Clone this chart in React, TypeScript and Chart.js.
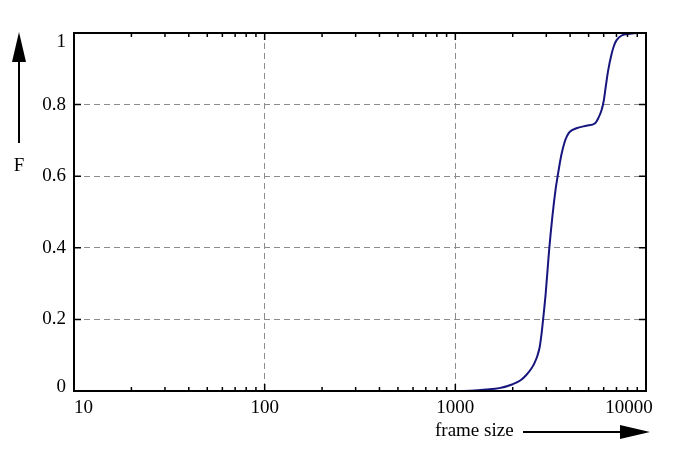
import { useEffect, useRef } from 'react';
import { Chart, registerables } from 'chart.js';

// Cumulative distribution F of frame sizes
const frameSizes = [
  750, 1000, 1200, 1450, 1700, 2000, 2200, 2350, 2500, 2600, 2700, 2770, 2830, 2880,
  2975, 3100, 3225, 3360, 3440, 3520, 3600, 3740, 3850, 3985, 4315, 4870, 5410, 5620,
  5850, 6000, 6150, 6330, 6590, 6800, 7010, 7450, 8230, 9000, 10000,
];
const cdfValues = [
  0, 0, 0.001, 0.004, 0.008, 0.019, 0.03, 0.044, 0.062, 0.078, 0.1, 0.123, 0.158, 0.195,
  0.27, 0.39, 0.485, 0.565, 0.6, 0.632, 0.66, 0.695, 0.712, 0.724, 0.734, 0.741, 0.748, 0.762,
  0.785, 0.81, 0.85, 0.895, 0.94, 0.965, 0.98, 0.993, 0.998, 1, 1,
];

const xTickValues = [10, 100, 1000, 10000];
const yTickValues = [0, 0.2, 0.4, 0.6, 0.8, 1];
const xMinorMultipliers = [2, 3, 4, 5, 6, 7, 8, 9];

const FONT = '"Liberation Serif", "Times New Roman", serif';

const yLabel = (v: number) => (v === 0 ? '0' : v === 1 ? '1' : v.toFixed(1));

const framePlugin = {
  id: 'frameAndArrows',
  afterDraw(chart: any) {
    const { ctx, chartArea: a, scales } = chart;
    const xs = scales.x;
    const ys = scales.y;
    ctx.save();

    // ticks (inward, on all four sides)
    ctx.strokeStyle = '#000';
    ctx.lineWidth = 1.5;
    ctx.beginPath();
    yTickValues.forEach((v) => {
      const y = ys.getPixelForValue(v);
      ctx.moveTo(a.left, y);
      ctx.lineTo(a.left + 7, y);
      ctx.moveTo(a.right, y);
      ctx.lineTo(a.right - 7, y);
    });
    xTickValues.forEach((v) => {
      const x = xs.getPixelForValue(v);
      ctx.moveTo(x, a.bottom);
      ctx.lineTo(x, a.bottom - 7);
      ctx.moveTo(x, a.top);
      ctx.lineTo(x, a.top + 7);
      if (v < 10000) {
        xMinorMultipliers.forEach((m) => {
          const xm = xs.getPixelForValue(v * m);
          ctx.moveTo(xm, a.bottom);
          ctx.lineTo(xm, a.bottom - 4);
          ctx.moveTo(xm, a.top);
          ctx.lineTo(xm, a.top + 4);
        });
      }
    });
    ctx.stroke();

    // frame
    ctx.lineWidth = 2;
    ctx.strokeRect(a.left, a.top, a.right - a.left, a.bottom - a.top);

    // tick labels
    ctx.fillStyle = '#000';
    ctx.font = `19px ${FONT}`;
    ctx.textBaseline = 'middle';
    ctx.textAlign = 'right';
    yTickValues.forEach((v, i) => {
      let y = ys.getPixelForValue(v);
      if (i === 0) y -= 4;
      if (i === yTickValues.length - 1) y += 9;
      ctx.fillText(yLabel(v), a.left - 8, y);
    });
    xTickValues.forEach((v, i) => {
      let x = xs.getPixelForValue(v);
      ctx.textAlign = 'center';
      if (i === 0) ctx.textAlign = 'left';
      if (i === xTickValues.length - 1) x -= 17;
      ctx.fillText(String(v), x, a.bottom + 17);
    });

    // y axis arrow and label
    ctx.beginPath();
    ctx.moveTo(19, 62);
    ctx.lineTo(19, 143);
    ctx.stroke();
    ctx.beginPath();
    ctx.moveTo(19, 32);
    ctx.lineTo(12, 62);
    ctx.lineTo(26, 62);
    ctx.closePath();
    ctx.fill();
    ctx.textAlign = 'center';
    ctx.fillText('F', 19, 166);

    // x axis arrow and label
    ctx.textAlign = 'left';
    ctx.fillText('frame size', 435, 431);
    ctx.beginPath();
    ctx.moveTo(523, 432);
    ctx.lineTo(622, 432);
    ctx.stroke();
    ctx.beginPath();
    ctx.moveTo(650, 432);
    ctx.lineTo(620, 425);
    ctx.lineTo(620, 439);
    ctx.closePath();
    ctx.fill();

    ctx.restore();
  },
};

export default function App() {
  const chartRef = useRef<HTMLCanvasElement>(null);
  const chartInstanceRef = useRef<Chart | null>(null);

  useEffect(() => {
    if (!chartRef.current) return;
    Chart.register(...registerables);

    if (chartInstanceRef.current) {
      chartInstanceRef.current.destroy();
    }

    const points = frameSizes.map((x, i) => ({ x, y: cdfValues[i] }));
    const gridColor = (edge: number[]) => (c: any) =>
      c.tick && edge.includes(c.tick.value) ? 'rgba(0,0,0,0)' : '#8c8c8c';

    chartInstanceRef.current = new Chart(chartRef.current, {
      type: 'line',
      data: {
        datasets: [
          {
            label: 'F',
            data: points,
            borderColor: '#16167e',
            borderWidth: 2,
            pointRadius: 0,
            fill: false,
            cubicInterpolationMode: 'monotone',
          },
        ],
      },
      options: {
        animation: false,
        responsive: true,
        maintainAspectRatio: false,
        layout: { padding: { top: 33, right: 52, left: 0, bottom: 0 } },
        plugins: {
          legend: { display: false },
          tooltip: { enabled: false },
        },
        scales: {
          x: {
            type: 'logarithmic',
            min: 10,
            max: 10000,
            afterBuildTicks: (scale: any) => {
              scale.ticks = xTickValues.map((value) => ({ value }));
            },
            afterFit: (scale: any) => {
              scale.height = 60;
            },
            grid: { color: gridColor([10, 10000]), lineWidth: 1, drawTicks: false },
            border: { display: false, dash: [6, 4] },
            ticks: { display: false },
          },
          y: {
            min: 0,
            max: 1,
            afterBuildTicks: (scale: any) => {
              scale.ticks = yTickValues.map((value) => ({ value }));
            },
            afterFit: (scale: any) => {
              scale.width = 74;
            },
            grid: { color: gridColor([0, 1]), lineWidth: 1, drawTicks: false },
            border: { display: false, dash: [6, 4] },
            ticks: { display: false },
          },
        },
      },
      plugins: [framePlugin],
    });

    return () => {
      if (chartInstanceRef.current) {
        chartInstanceRef.current.destroy();
        chartInstanceRef.current = null;
      }
    };
  }, []);

  return (
    <div style={{ position: 'fixed', left: 0, top: 0, width: 698, height: 451, background: '#fff' }}>
      <canvas ref={chartRef} />
    </div>
  );
}
